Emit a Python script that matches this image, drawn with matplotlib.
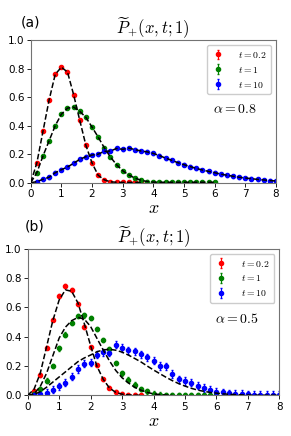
import numpy as np
import matplotlib
matplotlib.use('Agg')
import matplotlib.pyplot as plt

plt.rcParams['mathtext.fontset'] = 'cm'

x_red = [0.2, 0.4, 0.6, 0.8, 1.0, 1.2, 1.4, 1.6, 1.8, 2.0, 2.2, 2.4, 2.6, 2.8, 3.0, 3.2, 3.4, 3.6]
x_green = [0.2 * i for i in range(1, 31)]
x_blue = [0.2 * i for i in range(1, 41)]

# panel (a), alpha = 0.8
a_red = [0.138, 0.36, 0.58, 0.76, 0.81, 0.776, 0.617, 0.437, 0.262, 0.138, 0.052, 0.02, 0.006,
         0.003, 0.002, 0.002, 0.002, 0.002]
a_green = [0.07, 0.187, 0.294, 0.40, 0.48, 0.523, 0.53, 0.50, 0.458, 0.39, 0.32, 0.245, 0.18,
           0.126, 0.084, 0.054, 0.032, 0.017, 0.008, 0.004, 0.003, 0.003, 0.003, 0.003, 0.003,
           0.003, 0.003, 0.003, 0.003, 0.003]
a_blue = [0.007, 0.024, 0.038, 0.07, 0.091, 0.11, 0.136, 0.164, 0.182, 0.194, 0.2, 0.22, 0.222,
          0.24, 0.234, 0.243, 0.232, 0.222, 0.216, 0.205, 0.19, 0.172, 0.157, 0.14, 0.126, 0.113,
          0.1, 0.089, 0.079, 0.07, 0.06, 0.052, 0.045, 0.038, 0.033, 0.028, 0.023, 0.019, 0.015, 0.012]
a_err_red = [0.008] * len(x_red)
a_err_green = [0.008] * len(x_green)
a_err_blue = [0.01] * len(x_blue)

# panel (b), alpha = 0.5
b_red = [0.03, 0.137, 0.325, 0.517, 0.68, 0.749, 0.722, 0.622, 0.467, 0.327, 0.205, 0.108, 0.052,
         0.025, 0.01, 0.005, 0.003, 0.002]
b_green = [0.01, 0.04, 0.10, 0.20, 0.32, 0.415, 0.494, 0.54, 0.545, 0.528, 0.453, 0.378, 0.317,
           0.221, 0.15, 0.107, 0.073, 0.043, 0.027, 0.012, 0.005, 0.003, 0.003, 0.003, 0.003,
           0.003, 0.003, 0.003, 0.003, 0.003]
b_blue = [0.005, 0.009, 0.016, 0.038, 0.061, 0.086, 0.127, 0.18, 0.216, 0.222, 0.278, 0.294, 0.29,
          0.345, 0.322, 0.306, 0.3, 0.28, 0.26, 0.237, 0.2, 0.198, 0.146, 0.109, 0.098, 0.086,
          0.065, 0.05, 0.038, 0.026, 0.021, 0.014, 0.012, 0.008, 0.006, 0.005, 0.004, 0.004, 0.003, 0.003]
b_err_red = [0.012] * len(x_red)
b_err_green = [0.015] * len(x_green)
b_err_blue = [0.025] * len(x_blue)

# theory (dashed) curves
fit_x = [0.2 * i for i in range(0, 41)]
a_fit_red = [0.0] + a_red
a_fit_green = [0.0] + a_green
a_fit_blue = [0.0] + a_blue
b_fit_red = [0.0, 0.04, 0.15, 0.33, 0.51, 0.65, 0.72, 0.71, 0.63, 0.49, 0.34, 0.2, 0.11, 0.05,
             0.02, 0.008, 0.003, 0.001, 0.0]
b_fit_green = [0.0, 0.01, 0.06, 0.15, 0.27, 0.39, 0.465, 0.51, 0.532, 0.52, 0.47, 0.39, 0.31,
               0.235, 0.17, 0.12, 0.085, 0.055, 0.035, 0.02, 0.01, 0.005, 0.002, 0.0]
b_fit_blue = [0.0, 0.005, 0.025, 0.055, 0.09, 0.125, 0.16, 0.195, 0.23, 0.255, 0.275, 0.297, 0.31,
              0.314, 0.308, 0.295, 0.275, 0.252, 0.228, 0.2, 0.173, 0.148, 0.123, 0.1, 0.08,
              0.063, 0.048, 0.036, 0.027, 0.02, 0.015, 0.01, 0.007, 0.005, 0.003, 0.002, 0.001,
              0.001, 0.001, 0.001, 0.001]

labels = ['$t=0.2$', '$t=1$', '$t=10$']
colors = ['red', 'green', 'blue']

fig = plt.figure(figsize=(2.91, 4.36), dpi=100)
ax1 = fig.add_axes([0.1055, 0.581, 0.843, 0.327])
ax2 = fig.add_axes([0.095, 0.0933, 0.865, 0.336])


def draw_panel(ax, data, errs, fits, alpha_txt):
    xs = [x_red, x_green, x_blue]
    for i in range(3):
        ax.plot(fit_x[:len(fits[i])], fits[i], '--', color='black', lw=1.1, zorder=3)
    for i in range(3):
        ax.errorbar(xs[i], data[i], yerr=errs[i], fmt='o', color=colors[i], ms=3,
                    elinewidth=0.8, capsize=1, label=labels[i], zorder=2)
    ax.set_xlim(0, 8)
    ax.set_ylim(0, 1.0)
    ax.set_xticks(range(0, 9))
    ax.set_yticks([0, 0.2, 0.4, 0.6, 0.8, 1.0])
    ax.tick_params(labelsize=7.5, length=3, width=0.6, pad=1.5)
    for s in ax.spines.values():
        s.set_color('0.45')
        s.set_linewidth(0.8)
    ax.set_xlabel('$x$', fontsize=13, labelpad=0)
    ax.set_title(r'$\widetilde{P}_{+}(x,t;1)$', fontsize=12, pad=5)
    ax.text(6.65, 0.52, alpha_txt, fontsize=10, ha='center', va='center')
    ax.legend(loc='upper right', fontsize=7, handlelength=1.2, borderpad=0.5,
              labelspacing=0.5, handletextpad=1.5, framealpha=1)


draw_panel(ax1, [a_red, a_green, a_blue], [a_err_red, a_err_green, a_err_blue],
           [a_fit_red, a_fit_green, a_fit_blue], r'$\alpha=0.8$')
draw_panel(ax2, [b_red, b_green, b_blue], [b_err_red, b_err_green, b_err_blue],
           [b_fit_red, b_fit_green, b_fit_blue], r'$\alpha=0.5$')

fig.text(0.072, 0.948, '(a)', fontsize=10, va='center')
fig.text(0.086, 0.481, '(b)', fontsize=10, va='center')

fig.savefig('out.png', dpi=100)
